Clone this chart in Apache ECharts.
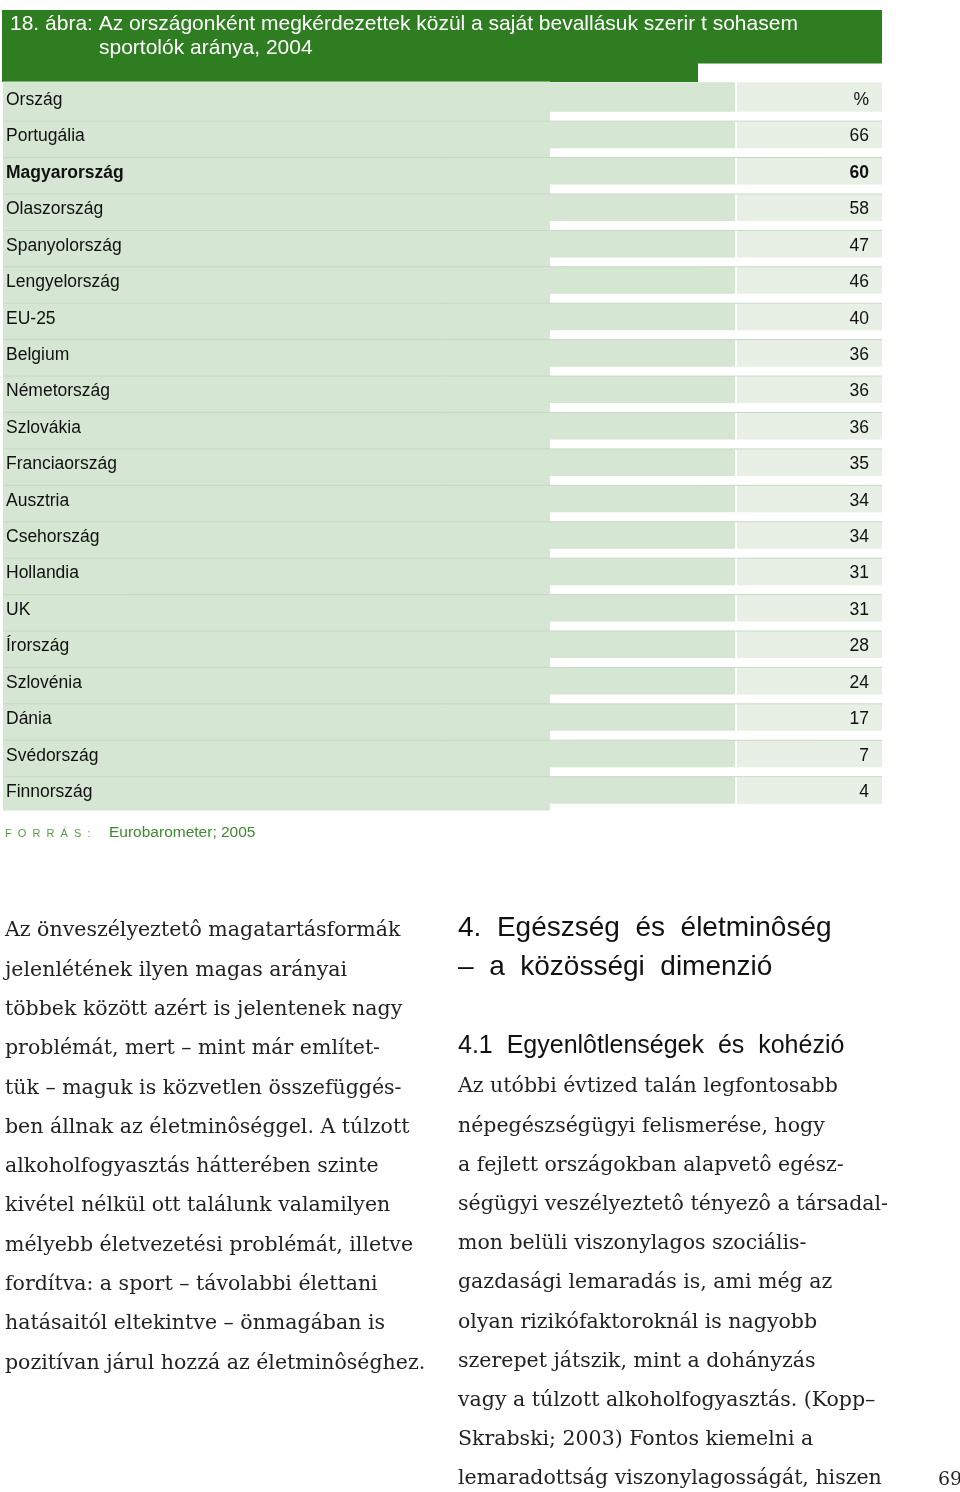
<!DOCTYPE html>
<html>
<head>
<meta charset="utf-8">
<script src="https://cdn.jsdelivr.net/npm/echarts@6/dist/echarts.min.js"></script>
<style>
html,body{margin:0;padding:0;background:#fff;}
#chart{width:960px;height:1492px;}
</style>
</head>
<body>
<div id="chart"></div>
<script>
// ---- data ----
const headerLabel = 'Ország';
const headerUnit = '%';
const countries = ['Portugália','Magyarország','Olaszország','Spanyolország','Lengyelország','EU-25','Belgium','Németország','Szlovákia','Franciaország','Ausztria','Csehország','Hollandia','UK','Írország','Szlovénia','Dánia','Svédország','Finnország'];
const values = [66,60,58,47,46,40,36,36,36,35,34,34,31,31,28,24,17,7,4];
const highlighted = 'Magyarország';

const titleLines = ['18. ábra: Az országonként megkérdezettek közül a saját bevallásuk szerir t sohasem', 'sportolók aránya, 2004'];
const sourceLabel = 'F  O  R  R  Á  S  :';
const sourceText = 'Eurobarometer; 2005';

const leftParagraph = [
  'Az önveszélyeztetô magatartásformák',
  'jelenlétének ilyen magas arányai',
  'többek között azért is jelentenek nagy',
  'problémát, mert – mint már említet-',
  'tük – maguk is közvetlen összefüggés-',
  'ben állnak az életminôséggel. A túlzott',
  'alkoholfogyasztás hátterében szinte',
  'kivétel nélkül ott találunk valamilyen',
  'mélyebb életvezetési problémát, illetve',
  'fordítva: a sport – távolabbi élettani',
  'hatásaitól eltekintve – önmagában is',
  'pozitívan járul hozzá az életminôséghez.'
];
const chapterHeading = ['4.  Egészség  és  életminôség', '–  a  közösségi  dimenzió'];
const sectionHeading = '4.1  Egyenlôtlenségek  és  kohézió';
const rightParagraph = [
  'Az utóbbi évtized talán legfontosabb',
  'népegészségügyi felismerése, hogy',
  'a fejlett országokban alapvetô egész-',
  'ségügyi veszélyeztetô tényezô a társadal-',
  'mon belüli viszonylagos szociális-',
  'gazdasági lemaradás is, ami még az',
  'olyan rizikófaktoroknál is nagyobb',
  'szerepet játszik, mint a dohányzás',
  'vagy a túlzott alkoholfogyasztás. (Kopp–',
  'Skrabski; 2003) Fontos kiemelni a',
  'lemaradottság viszonylagosságát, hiszen'
];
const pageNumber = '69';

// ---- build ----
const rowLabels = [headerLabel].concat(countries);
const rowValues = [headerUnit].concat(values.map(String));

const GREEN = '#2e7d20';
const CELL = '#d5e6d2';
const CELL2 = '#e8f0e6';
const SANS = '"Liberation Sans", Arial, sans-serif';
const SERIF = '"DejaVu Serif", serif';

const chart = echarts.init(document.getElementById('chart'), null, {renderer: 'canvas'});

function txt(text, x, y, size, family, color) {
  return {
    type: 'text', x: x, y: y, silent: true,
    style: {
      text: text, fill: color, fontSize: size, fontFamily: family,
      align: 'left', verticalAlign: 'middle', textAlign: 'left', textVerticalAlign: 'middle'
    }
  };
}

const graphics = [
  {type: 'rect', shape: {x: 2, y: 10, width: 880, height: 53.5}, style: {fill: GREEN}, silent: true},
  {type: 'rect', shape: {x: 2, y: 63, width: 696, height: 19}, style: {fill: GREEN}, silent: true},
  txt(titleLines[0], 10, 24, 21, SANS, '#ffffff'),
  txt(titleLines[1], 99, 48.5, 21, SANS, '#ffffff'),
  txt(sourceLabel, 5, 834, 11, SANS, '#5a9a4a'),
  txt(sourceText, 109, 833, 15.5, SANS, '#3f8a30'),
  txt(chapterHeading[0], 458, 928, 28, SANS, '#111'),
  txt(chapterHeading[1], 458, 967, 28, SANS, '#111'),
  txt(sectionHeading, 458, 1046, 25, SANS, '#111'),
  txt(pageNumber, 938, 1480, 19, SERIF, '#222')
];
leftParagraph.forEach(function (line, k) {
  graphics.push(txt(line, 5, 931 + k * 39.3, 20.5, SERIF, '#222'));
});
rightParagraph.forEach(function (line, k) {
  graphics.push(txt(line, 458, 1087 + k * 39.2, 20.5, SERIF, '#222'));
});

const option = {
  backgroundColor: '#ffffff',
  animation: false,
  grid: {left: 2, top: 81.5, width: 880, height: 728.4, containLabel: false},
  xAxis: {type: 'value', min: 0, max: 1, show: false},
  yAxis: {type: 'category', data: rowLabels, inverse: true, show: false},
  series: [{
    type: 'custom',
    data: rowLabels.map(function (_, i) { return [0, i]; }),
    encode: {x: 0, y: 1},
    renderItem: function (params, api) {
      const i = api.value(1);
      const cy = api.coord([0, i])[1];
      const rh = api.size([0, 1])[1];
      const cs = params.coordSys;
      const x0 = cs.x, W = cs.width;
      const leftEnd = x0 + W * 548 / 880;
      const midEnd = x0 + W * 733 / 880;
      const rightStart = x0 + W * 735 / 880;
      const rightEnd = x0 + W;
      const bandTop = i === 0 ? cy - 17.5 : cy - 15;
      const bandH = i === 0 ? 29.5 : 27;
      const bold = rowLabels[i] === highlighted;
      const children = [
        {type: 'rect', shape: {x: x0 + 1, y: cy - rh / 2, width: leftEnd - x0 - 1, height: rh + 0.6}, style: {fill: CELL}},
        {type: 'rect', shape: {x: leftEnd, y: bandTop, width: midEnd - leftEnd, height: bandH}, style: {fill: CELL}},
        {type: 'rect', shape: {x: rightStart, y: bandTop, width: rightEnd - rightStart, height: bandH}, style: {fill: CELL2}},
        {type: 'text', style: {text: rowLabels[i], x: x0 + 4, y: cy + 0.5, fill: '#111', fontSize: 17.5, fontFamily: SANS,
          fontWeight: bold ? 'bold' : 'normal', align: 'left', verticalAlign: 'middle'}},
        {type: 'text', style: {text: rowValues[i], x: x0 + W * 867 / 880, y: cy + 0.5, fill: '#111', fontSize: 17.5, fontFamily: SANS,
          fontWeight: bold ? 'bold' : 'normal', align: 'right', verticalAlign: 'middle'}}
      ];
      if (i > 0) {
        children.splice(3, 0, {type: 'line', shape: {x1: x0 + 1, y1: bandTop, x2: rightEnd, y2: bandTop},
          style: {stroke: '#c8d8c6', lineWidth: 1}});
      }
      return {type: 'group', children: children};
    }
  }],
  graphic: {elements: graphics}
};
chart.setOption(option);
</script>
</body>
</html>
